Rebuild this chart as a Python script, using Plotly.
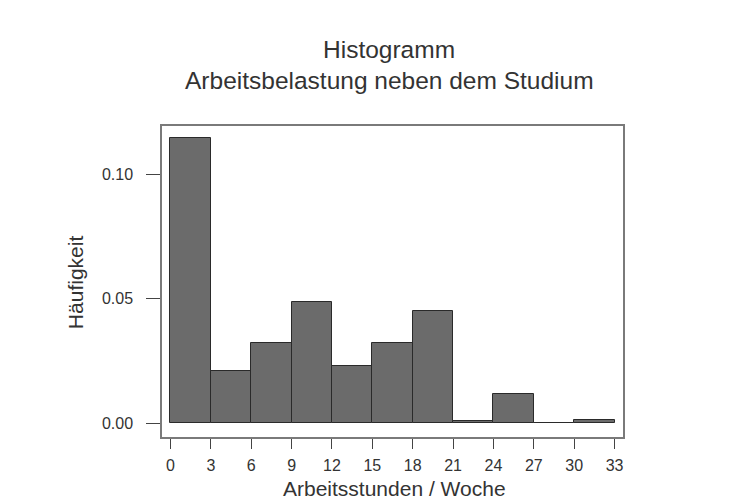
import plotly.graph_objects as go

# Histogram of weekly working hours alongside studies (density scale)
bin_edges = [0, 3, 6, 9, 12, 15, 18, 21, 24, 27, 30, 33]
density = [0.1143, 0.0209, 0.0320, 0.0486, 0.0228, 0.0320, 0.0450, 0.0008, 0.0116, 0.0, 0.0014]
x_ticks = [0, 3, 6, 9, 12, 15, 18, 21, 24, 27, 30, 33]
y_ticks = [0.00, 0.05, 0.10]
y_tick_labels = ["0.00", "0.05", "0.10"]

centers = [(a + b) / 2 for a, b in zip(bin_edges[:-1], bin_edges[1:])]
widths = [b - a for a, b in zip(bin_edges[:-1], bin_edges[1:])]

FONT = "Liberation Sans, Arial, sans-serif"
TEXT = "#333333"

fig = go.Figure(
    go.Bar(
        x=centers,
        y=density,
        width=widths,
        marker=dict(color="#6b6b6b", line=dict(color="#2a2a2a", width=1)),
        hoverinfo="x+y",
    )
)

fig.update_layout(
    width=733,
    height=503,
    margin=dict(l=162, r=110, t=126, b=66),
    paper_bgcolor="white",
    plot_bgcolor="white",
    showlegend=False,
    bargap=0,
    font=dict(family=FONT, color=TEXT, size=16),
    annotations=[
        dict(text="Histogramm", x=0.493, y=1.2444, xref="paper", yref="paper",
             showarrow=False, font=dict(size=24.5, family=FONT, color=TEXT),
             xanchor="center", yanchor="middle"),
        dict(text="Arbeitsbelastung neben dem Studium", x=0.493, y=1.1447,
             xref="paper", yref="paper", showarrow=False,
             font=dict(size=24.5, family=FONT, color=TEXT),
             xanchor="center", yanchor="middle"),
        dict(text="Arbeitsstunden / Woche", x=0.504, y=-0.164, xref="paper",
             yref="paper", showarrow=False,
             font=dict(size=21, family=FONT, color=TEXT),
             xanchor="center", yanchor="middle"),
        dict(text="Häufigkeit", x=-0.1887, y=0.498, xref="paper", yref="paper",
             showarrow=False, textangle=-90,
             font=dict(size=21, family=FONT, color=TEXT),
             xanchor="center", yanchor="middle"),
    ],
)

fig.update_xaxes(
    range=[-0.63, 33.63],
    tickmode="array",
    tickvals=x_ticks,
    ticktext=[str(v) for v in x_ticks],
    ticks="outside",
    ticklen=10,
    tickwidth=1,
    tickcolor="#444",
    ticklabelstandoff=3,
    showline=True,
    linecolor="#7a7a7a",
    linewidth=1.5,
    mirror=True,
    showgrid=False,
    zeroline=False,
    tickfont=dict(size=16, family=FONT, color=TEXT),
)

fig.update_yaxes(
    range=[-0.0056, 0.1193],
    tickmode="array",
    tickvals=y_ticks,
    ticktext=y_tick_labels,
    ticks="outside",
    ticklen=14,
    tickwidth=1,
    tickcolor="#444",
    ticklabelstandoff=10,
    showline=True,
    linecolor="#7a7a7a",
    linewidth=1.5,
    mirror=True,
    showgrid=False,
    zeroline=False,
    tickfont=dict(size=16, family=FONT, color=TEXT),
)

fig.write_html("out.html")
